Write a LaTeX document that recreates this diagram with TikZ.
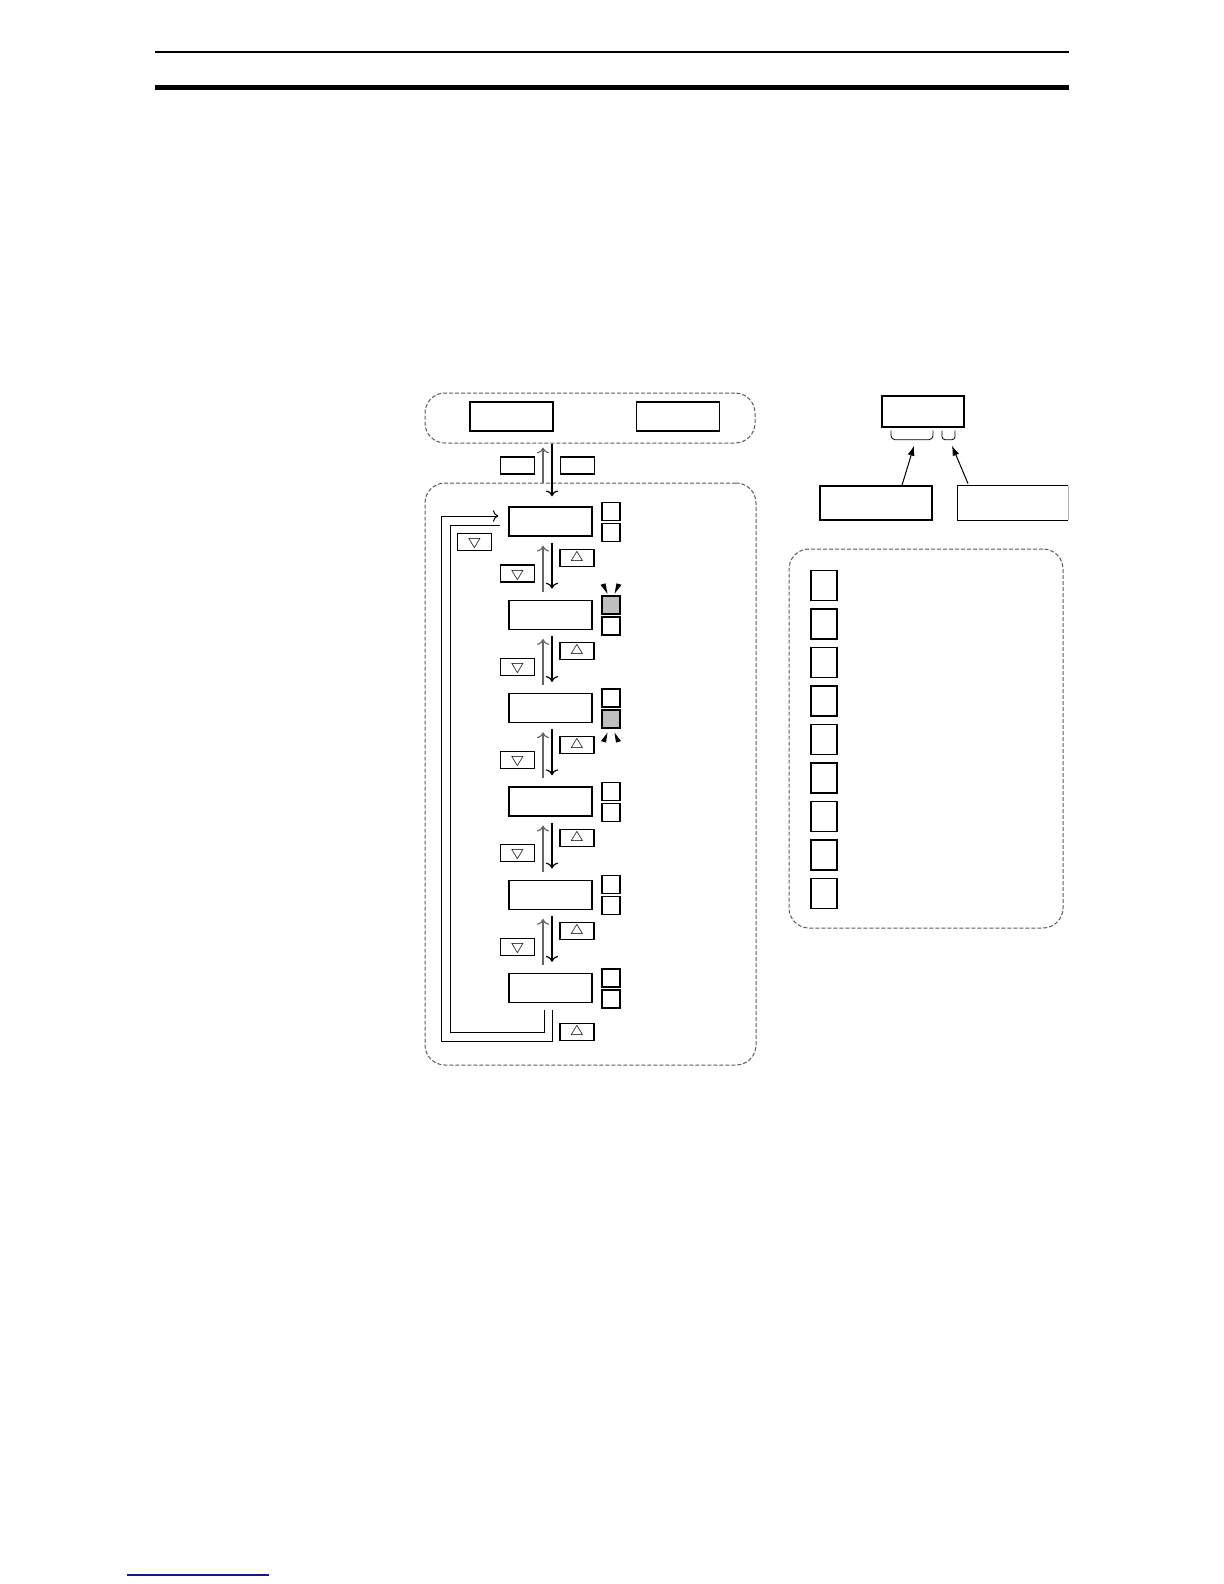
\documentclass[tikz,border=0pt]{standalone}
\usepackage{tikz}
\usetikzlibrary{arrows,arrows.meta,calc}
\usepackage{amssymb}
\definecolor{lampgray}{RGB}{190,190,190}
\definecolor{linkblue}{RGB}{20,20,150}
\definecolor{framegray}{RGB}{90,90,90}
\tikzset{
  disp/.style={draw, line width=0.7pt, minimum width=41.5pt, minimum height=14.5pt, inner sep=0pt},
  key/.style={draw, line width=0.55pt, minimum width=17pt, minimum height=8.5pt, inner sep=0pt, font=\fontsize{7.5}{7.5}\selectfont},
  lamp/.style={draw, line width=0.7pt, minimum size=9pt, inner sep=0pt},
  lampon/.style={lamp, fill=lampgray},
  sq/.style={draw, line width=0.75pt, minimum width=13pt, minimum height=15pt, inner sep=0pt},
  frame/.style={draw=framegray, line width=0.5pt, dash pattern=on 2pt off 1pt, rounded corners=10pt, inner sep=0pt},
  blink/.style={fill=black, draw=none},
  up/.style={->, line width=0.6pt, black!60},
  down/.style={->, line width=0.6pt},
}
\begin{document}
\begin{tikzpicture}[x=0.5pt, y=-0.5pt]
\useasboundingbox (0,0) rectangle (1224,1584);
% page rules
\draw[line width=1pt] (155,52) -- (1069,52);
\draw[line width=2.5pt] (155,87.5) -- (1069,87.5);
\draw[linkblue, line width=0.7pt] (127,1575) -- (269,1575);

% frames
\node[frame, minimum width=165pt, minimum height=25pt] (modes) at (590,418) {};
\node[frame, minimum width=165.5pt, minimum height=291pt] (menu) at (590.5,774) {};
\node[frame, minimum width=137pt, minimum height=189.5pt] (list) at (926,738.5) {};

% top displays and keys
\node[disp] (t1) at (511.5,416.5) {};
\node[disp] (t2) at (678,416.5) {};
\node[key] (k1) at (517.5,465.5) {};
\node[key] (k2) at (577.5,465.5) {};

% menu column
\node[disp] (d1) at (550.5,521.5) {};
\node[disp] (d2) at (550.5,614.8) {};
\node[disp] (d3) at (550.5,708.1) {};
\node[disp] (d4) at (550.5,801.4) {};
\node[disp] (d5) at (550.5,894.7) {};
\node[disp] (d6) at (550.5,988) {};

\node[lamp] (l1a) at (611,511.5) {};
\node[lamp] (l1b) at (611,532.5) {};
\node[lampon] (l2a) at (611,604.8) {};
\node[lamp] (l2b) at (611,625.8) {};
\node[lamp] (l3a) at (611,698.1) {};
\node[lampon] (l3b) at (611,719.1) {};
\node[lamp] (l4a) at (611,791.4) {};
\node[lamp] (l4b) at (611,812.4) {};
\node[lamp] (l5a) at (611,884.7) {};
\node[lamp] (l5b) at (611,905.7) {};
\node[lamp] (l6a) at (611,978) {};
\node[lamp] (l6b) at (611,999) {};

% blinking marks
\fill[blink] ($(l2a)+(-10.5,-20)$) -- ($(l2a)+(-5.5,-21.5)$) -- ($(l2a)+(-3.5,-11)$) -- cycle;
\fill[blink] ($(l2a)+(10.5,-20)$) -- ($(l2a)+(5.5,-21.5)$) -- ($(l2a)+(3.5,-11)$) -- cycle;
\fill[blink] ($(l3b)+(-10,22)$) -- ($(l3b)+(-5,23.5)$) -- ($(l3b)+(-3.5,13.5)$) -- cycle;
\fill[blink] ($(l3b)+(10,22)$) -- ($(l3b)+(5,23.5)$) -- ($(l3b)+(3.5,13.5)$) -- cycle;

\node[key] (u1) at (577,558) {$\bigtriangleup$};
\node[key] (u2) at (577,651.3) {$\bigtriangleup$};
\node[key] (u3) at (577,744.6) {$\bigtriangleup$};
\node[key] (u4) at (577,837.9) {$\bigtriangleup$};
\node[key] (u5) at (577,931.2) {$\bigtriangleup$};
\node[key] (u6) at (577,1032) {$\bigtriangleup$};
\node[key] (n0) at (474.5,542) {$\bigtriangledown$};
\node[key] (n1) at (517.5,573.5) {$\bigtriangledown$};
\node[key] (n2) at (517.5,666.8) {$\bigtriangledown$};
\node[key] (n3) at (517.5,760.1) {$\bigtriangledown$};
\node[key] (n4) at (517.5,853.4) {$\bigtriangledown$};
\node[key] (n5) at (517.5,946.7) {$\bigtriangledown$};

\draw[up] ($(menu.north -| d1.north)+(-7.5,0)$) -- ($(modes.south -| d1.north)+(-7.5,4)$);
\draw[down] ($(modes.south -| d1.north)+(1.5,0)$) -- ($(d1.north)+(1.5,-10)$);
\draw[up] ($(d2.north)+(-7.5,-8)$) -- ($(d1.south)+(-7.5,9)$);
\draw[down] ($(d1.south)+(1.5,6)$) -- ($(d2.north)+(1.5,-11)$);
\draw[up] ($(d3.north)+(-7.5,-8)$) -- ($(d2.south)+(-7.5,9)$);
\draw[down] ($(d2.south)+(1.5,6)$) -- ($(d3.north)+(1.5,-11)$);
\draw[up] ($(d4.north)+(-7.5,-8)$) -- ($(d3.south)+(-7.5,9)$);
\draw[down] ($(d3.south)+(1.5,6)$) -- ($(d4.north)+(1.5,-11)$);
\draw[up] ($(d5.north)+(-7.5,-8)$) -- ($(d4.south)+(-7.5,9)$);
\draw[down] ($(d4.south)+(1.5,6)$) -- ($(d5.north)+(1.5,-11)$);
\draw[up] ($(d6.north)+(-7.5,-8)$) -- ($(d5.south)+(-7.5,9)$);
\draw[down] ($(d5.south)+(1.5,6)$) -- ($(d6.north)+(1.5,-11)$);

% return loop
\draw[->, line width=0.5pt] ($(d6.south)+(1.5,7)$) -- ++(0,31) -| ($(d1.west)+(-67,-5.5)$) -- ($(d1.west)+(-10,-5.5)$);
\draw[line width=0.5pt] ($(d6.south)+(-6.5,7)$) -- ++(0,22) -| ($(d1.west)+(-58,3.5)$) -- ($(d1.west)+(-8,3.5)$);

% code display
\node[disp, minimum width=41pt, minimum height=15.5pt] (code) at (923,411.5) {};
\draw[line width=0.4pt, rounded corners=2pt] ($(code.south)+(-32,3)$) -- ++(0,9) -- ($(code.south)+(10,12)$) -- ++(0,-9);
\draw[line width=0.4pt, rounded corners=1.5pt] ($(code.south)+(19,3)$) -- ++(0,9) -- ($(code.south)+(32,12)$) -- ++(0,-9);
\coordinate (b1) at ($(code.south)+(-9,18)$);
\coordinate (b2) at ($(code.south)+(29,18)$);

\node[disp, line width=0.75pt, minimum width=56pt, minimum height=17pt] (grp) at (876,503) {};
\node[minimum width=55pt, minimum height=17pt, inner sep=0pt] (num) at (1013,503) {};
\draw[line width=0.75pt] (num.north east) -- (num.north west) -- (num.south west) -- (num.south east);
\draw[line width=0.2pt, black!30] (num.north east) -- (num.south east);

\draw[-{Latex[length=5pt,width=3.5pt]}, line width=0.5pt] ($(grp.north)+(26,0)$) -- (b1);
\draw[-{Latex[length=5pt,width=3.5pt]}, line width=0.5pt] ($(num.north)+(-45,-2)$) -- (b2);
\draw[framegray, line width=0.5pt, dash pattern=on 2pt off 1pt] ($(num.south)+(-4,0)$) -- ($(num.south)+(-4,0)$ |- list.north);

% list squares
\node[sq] (q1) at (824,585.5) {};
\node[sq] (q2) at (824,624) {};
\node[sq] (q3) at (824,662.5) {};
\node[sq] (q4) at (824,701) {};
\node[sq] (q5) at (824,739.5) {};
\node[sq] (q6) at (824,778) {};
\node[sq] (q7) at (824,816.5) {};
\node[sq] (q8) at (824,855) {};
\node[sq] (q9) at (824,893.5) {};
\end{tikzpicture}
\end{document}
